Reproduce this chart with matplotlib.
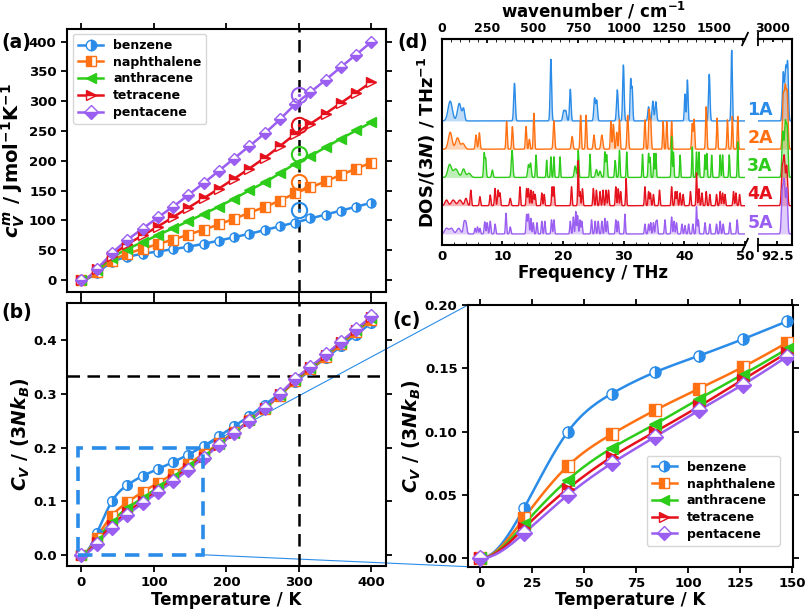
import numpy as np
import matplotlib
matplotlib.use('Agg')
import matplotlib.pyplot as plt
from matplotlib.lines import Line2D
from matplotlib.patches import Rectangle, ConnectionPatch

plt.rcParams.update({
    'font.family': ['DejaVu Sans'],
    'font.weight': 'bold',
    'axes.labelweight': 'bold',
    'font.size': 9.5,
    'mathtext.fontset': 'custom',
    'mathtext.rm': 'DejaVu Sans:bold',
    'mathtext.it': 'DejaVu Sans:italic:bold',
    'mathtext.bf': 'DejaVu Sans:bold',
    'axes.linewidth': 1.5,
    'xtick.major.width': 1.3,
    'ytick.major.width': 1.3,
})

# ---- heat capacity data (normalised Cv / 3NkB) ----
TEMPS = [0, 21.1, 42.1, 63.2, 84.2, 105.3, 126.3, 147.4, 168.4, 189.5,
         210.5, 231.6, 252.6, 273.7, 294.7, 315.8, 336.8, 357.9, 378.9, 400]
MOLECULES = ['benzene', 'naphthalene', 'anthracene', 'tetracene', 'pentacene']
N_ATOMS = [12, 18, 24, 30, 36]
CV_BENZENE = [0, 0.040, 0.100, 0.130, 0.147, 0.160, 0.173, 0.187, 0.203, 0.221,
              0.240, 0.259, 0.280, 0.301, 0.322, 0.345, 0.367, 0.389, 0.411, 0.433]
CV_NAPHTHALENE = [0, 0.032, 0.073, 0.098, 0.117, 0.134, 0.151, 0.170, 0.188, 0.208,
                  0.229, 0.251, 0.273, 0.297, 0.324, 0.346, 0.369, 0.393, 0.416, 0.439]
CV_ANTHRACENE = [0, 0.027, 0.062, 0.087, 0.106, 0.126, 0.145, 0.165, 0.185, 0.206,
                 0.228, 0.251, 0.274, 0.299, 0.326, 0.348, 0.372, 0.396, 0.419, 0.442]
CV_TETRACENE = [0, 0.024, 0.055, 0.080, 0.100, 0.120, 0.141, 0.162, 0.183, 0.205,
                0.227, 0.250, 0.274, 0.300, 0.327, 0.350, 0.373, 0.397, 0.420, 0.444]
CV_PENTACENE = [0, 0.020, 0.050, 0.075, 0.096, 0.117, 0.137, 0.159, 0.181, 0.204,
                0.227, 0.250, 0.274, 0.300, 0.328, 0.351, 0.374, 0.398, 0.421, 0.445]
CV_ALL = [CV_BENZENE, CV_NAPHTHALENE, CV_ANTHRACENE, CV_TETRACENE, CV_PENTACENE]
EXP_300K = [117, 165, 212, 260, 310]   # J/mol/K, experiment at 300 K
R_GAS = 8.314

COLORS = ['#2a8ce8', '#ff7112', '#2ecc1a', '#e5111c', '#9a5ef0']
MARKERS = [('o', 'right'), ('s', 'left'), ('<', 'full'), ('>', 'top'), ('D', 'bottom')]

# ---- phonon DOS peaks: (THz, height, width) ----
DOS_1A = [(1.4, 0.7, 0.35), (2.9, 0.62, 0.3), (3.6, 0.42, 0.18), (12.0, 1.33, 0.13),
          (18.0, 2.18, 0.12), (20.1, 0.35, 0.15), (20.45, 0.35, 0.15), (21.2, 1.12, 0.12),
          (25.2, 0.8, 0.13), (25.55, 0.72, 0.13), (28.95, 1.1, 0.13), (29.95, 1.98, 0.12),
          (31.15, 1.45, 0.1), (31.4, 1.15, 0.1), (34.1, 0.5, 0.13), (34.8, 0.7, 0.13),
          (35.3, 0.68, 0.13), (40.1, 0.95, 0.1), (40.5, 1.45, 0.1), (44.1, 1.65, 0.12),
          (47.8, 2.5, 0.1)]
DOS_2A = [(1.4, 0.6, 0.3), (2.6, 0.4, 0.3), (3.5, 0.2, 0.3), (5.66, 0.5, 0.12),
          (6.2, 0.58, 0.12), (10.7, 0.98, 0.1), (11.65, 0.8, 0.1), (13.9, 0.8, 0.1),
          (14.45, 0.35, 0.1), (15.2, 1.27, 0.1), (18.5, 1.0, 0.12), (21.5, 0.45, 0.13),
          (22.9, 1.2, 0.1), (23.8, 1.2, 0.1), (25.1, 0.5, 0.12), (26.4, 0.5, 0.15),
          (27.9, 0.98, 0.1), (28.3, 0.88, 0.1), (28.85, 0.6, 0.1), (29.3, 1.04, 0.1),
          (30.66, 1.2, 0.12), (33.5, 1.04, 0.1), (34.2, 1.38, 0.1), (34.45, 1.0, 0.1),
          (36.5, 0.98, 0.09), (37.1, 0.98, 0.09), (37.9, 0.98, 0.09), (41.3, 0.9, 0.1),
          (41.6, 1.05, 0.1), (43.6, 1.5, 0.1), (45.4, 1.1, 0.09), (47.1, 1.04, 0.09),
          (47.9, 1.16, 0.09), (48.8, 1.16, 0.09)]
DOS_3A = [(1.3, 0.45, 0.3), (2.3, 0.3, 0.4), (3.6, 0.3, 0.25), (4.5, 0.15, 0.3),
          (7.0, 0.85, 0.1), (7.25, 0.65, 0.1), (8.35, 0.26, 0.12), (11.6, 0.96, 0.13),
          (14.3, 0.45, 0.13), (14.65, 0.5, 0.12), (15.55, 0.79, 0.09), (17.3, 0.61, 0.08),
          (18.0, 0.73, 0.08), (18.5, 0.73, 0.08), (19.5, 0.73, 0.08), (22.0, 0.4, 0.15),
          (22.5, 0.96, 0.1), (24.45, 0.82, 0.08), (25.5, 0.28, 0.15), (26.1, 0.22, 0.15),
          (26.9, 0.9, 0.1), (27.2, 0.8, 0.1), (28.6, 0.6, 0.1), (29.3, 0.96, 0.09),
          (30.5, 0.9, 0.08), (33.1, 0.82, 0.08), (34.1, 0.85, 0.09), (34.35, 0.7, 0.08),
          (35.0, 0.85, 0.08), (35.3, 0.85, 0.08), (37.9, 1.44, 0.08), (38.2, 0.9, 0.08),
          (39.3, 0.79, 0.08), (41.3, 1.08, 0.08), (42.0, 0.9, 0.08), (42.4, 0.9, 0.08),
          (43.4, 0.8, 0.08), (43.7, 0.85, 0.08), (44.5, 0.79, 0.08), (45.9, 0.8, 0.08),
          (46.3, 0.8, 0.08), (47.4, 0.8, 0.08), (48.8, 1.26, 0.08)]
DOS_4A = [(0.8, 0.2, 0.25), (1.9, 0.2, 0.3), (3.0, 0.2, 0.3), (4.0, 0.26, 0.2),
          (4.8, 0.55, 0.1), (6.3, 0.32, 0.1), (8.0, 0.38, 0.1), (8.8, 0.61, 0.1),
          (9.3, 0.55, 0.1), (9.6, 0.45, 0.1), (11.3, 0.26, 0.12), (12.9, 0.67, 0.09),
          (14.0, 0.61, 0.09), (14.3, 0.6, 0.09), (14.7, 0.55, 0.09), (15.1, 0.5, 0.09),
          (15.4, 0.4, 0.09), (16.5, 0.45, 0.09), (16.9, 0.4, 0.09), (18.2, 0.67, 0.09),
          (18.5, 0.67, 0.09), (21.4, 0.67, 0.09), (22.5, 1.59, 0.08), (22.8, 0.5, 0.09),
          (23.2, 0.6, 0.09), (25.0, 0.61, 0.09), (25.5, 0.55, 0.09), (26.1, 0.5, 0.09),
          (26.6, 0.55, 0.09), (27.1, 0.55, 0.09), (27.5, 0.55, 0.09), (28.7, 0.67, 0.09),
          (29.1, 0.6, 0.09), (29.5, 0.5, 0.09), (30.4, 0.96, 0.08), (33.5, 0.67, 0.09),
          (34.1, 0.5, 0.09), (34.4, 0.45, 0.09), (34.9, 0.4, 0.09), (35.9, 0.55, 0.09),
          (37.9, 0.67, 0.09), (38.5, 0.5, 0.09), (38.8, 0.5, 0.09), (39.3, 0.45, 0.09),
          (39.8, 0.4, 0.09), (41.0, 0.5, 0.09), (42.0, 1.16, 0.08), (42.4, 0.6, 0.09),
          (42.9, 0.45, 0.09), (43.6, 0.5, 0.09), (44.2, 0.4, 0.09), (45.3, 0.4, 0.09),
          (45.9, 0.5, 0.09), (46.3, 0.45, 0.09), (46.7, 0.4, 0.09), (48.1, 0.5, 0.09),
          (48.5, 0.45, 0.09), (49.1, 0.4, 0.09)]
DOS_5A = [(0.8, 0.2, 0.3), (1.6, 0.2, 0.3), (2.8, 0.2, 0.3), (3.7, 0.4, 0.15),
          (4.0, 0.38, 0.15), (5.5, 0.2, 0.1), (5.9, 0.25, 0.1), (6.3, 0.2, 0.1),
          (7.1, 0.43, 0.1), (7.5, 0.4, 0.1), (8.0, 0.45, 0.1), (8.8, 0.35, 0.1),
          (10.6, 0.73, 0.09), (11.3, 0.25, 0.1), (14.0, 0.69, 0.1), (14.3, 0.7, 0.1),
          (14.7, 0.55, 0.09), (15.1, 0.4, 0.09), (15.7, 0.4, 0.09), (16.5, 0.45, 0.09),
          (17.0, 0.45, 0.09), (18.1, 0.5, 0.09), (18.5, 0.5, 0.09), (21.2, 0.45, 0.09),
          (21.7, 0.6, 0.09), (22.1, 0.79, 0.08), (22.4, 0.65, 0.09), (22.8, 0.5, 0.09),
          (23.1, 0.45, 0.09), (24.7, 0.5, 0.09), (25.3, 0.45, 0.09), (25.8, 0.45, 0.09),
          (26.4, 0.45, 0.09), (26.9, 0.55, 0.09), (27.3, 0.45, 0.09), (28.7, 0.5, 0.09),
          (29.1, 0.45, 0.09), (30.2, 0.7, 0.08), (33.5, 0.35, 0.09), (34.1, 0.35, 0.09),
          (34.45, 0.4, 0.09), (34.9, 0.4, 0.09), (35.3, 0.4, 0.09), (35.5, 0.45, 0.09),
          (36.8, 0.5, 0.09), (37.9, 0.6, 0.09), (38.3, 0.45, 0.09), (38.7, 0.4, 0.09),
          (39.6, 0.35, 0.09), (40.1, 0.3, 0.09), (40.7, 0.35, 0.09), (41.4, 0.35, 0.09),
          (42.0, 0.96, 0.08), (42.3, 0.5, 0.09), (43.4, 0.4, 0.09), (44.2, 0.35, 0.09),
          (45.3, 0.35, 0.09), (45.9, 0.45, 0.09), (46.4, 0.35, 0.09), (47.5, 0.4, 0.09),
          (48.7, 0.5, 0.09)]
DOS_MAIN = [DOS_1A, DOS_2A, DOS_3A, DOS_4A, DOS_5A]
# C-H stretch region
CH_1A = [(93.1, 1.7, 0.09), (93.35, 1.85, 0.09), (93.55, 1.95, 0.08)]
CH_2A = [(93.1, 1.8, 0.09), (93.3, 2.0, 0.09), (93.5, 1.9, 0.09)]
CH_3A = [(93.05, 1.6, 0.09), (93.3, 1.85, 0.09), (93.5, 1.7, 0.09)]
CH_4A = [(93.0, 1.3, 0.09), (93.2, 1.65, 0.09), (93.45, 1.4, 0.09)]
CH_5A = [(93.0, 1.5, 0.09), (93.2, 1.8, 0.09), (93.45, 1.6, 0.09)]
DOS_CH = [CH_1A, CH_2A, CH_3A, CH_4A, CH_5A]
DOS_LABELS = ['1A', '2A', '3A', '4A', '5A']
DOS_OFFSETS = [4, 3, 2, 1, 0]
THZ_TO_CM = 33.356


def spline(x, y, xf):
    # cubic spline, zero slope at the start, natural at the end
    x = np.asarray(x, float)
    y = np.asarray(y, float)
    n = len(x)
    h = np.diff(x)
    A = np.zeros((n, n))
    b = np.zeros(n)
    A[0, 0], A[0, 1] = 2 * h[0], h[0]
    b[0] = 6 * (y[1] - y[0]) / h[0]
    for i in range(1, n - 1):
        A[i, i - 1], A[i, i], A[i, i + 1] = h[i - 1], 2 * (h[i - 1] + h[i]), h[i]
        b[i] = 6 * ((y[i + 1] - y[i]) / h[i] - (y[i] - y[i - 1]) / h[i - 1])
    A[-1, -1] = 1
    M = np.linalg.solve(A, b)
    idx = np.clip(np.searchsorted(x, xf) - 1, 0, n - 2)
    x0, x1, hh = x[idx], x[idx + 1], h[idx]
    return (M[idx] * (x1 - xf) ** 3 / (6 * hh) + M[idx + 1] * (xf - x0) ** 3 / (6 * hh)
            + (y[idx] / hh - M[idx] * hh / 6) * (x1 - xf)
            + (y[idx + 1] / hh - M[idx + 1] * hh / 6) * (xf - x0))


def spectrum(x, peaks):
    out = np.zeros_like(x)
    for pos, hgt, wid in peaks:
        out += hgt * np.exp(-0.5 * ((x - pos) / wid) ** 2)
    return out


def style_ax(ax):
    ax.tick_params(direction='out', top=True, right=True, length=4, labelsize=9.5)
    for lab in ax.get_xticklabels() + ax.get_yticklabels():
        lab.set_fontweight('bold')


def plot_series(ax, T, vals, i, ms):
    mk, fs = MARKERS[i]
    Tf = np.linspace(T[0], T[-1], 400)
    ax.plot(Tf, spline(T, vals, Tf), color=COLORS[i], lw=1.8, zorder=3)
    ax.plot(T, vals, ls='none', marker=mk, fillstyle=fs, ms=ms, color=COLORS[i],
            markerfacecoloralt='white', mec=COLORS[i], mew=1.0, zorder=4)


def legend_handles():
    hs = []
    for i, name in enumerate(MOLECULES):
        mk, fs = MARKERS[i]
        hs.append(Line2D([], [], color=COLORS[i], lw=1.8, marker=mk, fillstyle=fs, ms=7.5,
                         markerfacecoloralt='white', mec=COLORS[i], label=name))
    return hs


fig = plt.figure(figsize=(8.1, 6.1), dpi=100)
axa = fig.add_axes([0.0827, 0.5213, 0.3938, 0.4312])
axb = fig.add_axes([0.0827, 0.0721, 0.3938, 0.4312])
axd = fig.add_axes([0.5453, 0.5984, 0.3745, 0.3377])
axr = fig.add_axes([0.9358, 0.5984, 0.042, 0.3377])
axc = fig.add_axes([0.5778, 0.071, 0.4012, 0.429])

T = np.array(TEMPS)

# (a) molar heat capacity
for i, cv in enumerate(CV_ALL):
    plot_series(axa, T, np.array(cv) * 3 * N_ATOMS[i] * R_GAS, i, 6.5)
    axa.plot(300, EXP_300K[i], 'o', ms=11, mfc='none', mec=COLORS[i], mew=1.5, zorder=5)
    axa.plot(300, EXP_300K[i], '.', ms=3, color=COLORS[i], zorder=5)
axa.axvline(300, color='k', ls=(0, (5, 3)), lw=1.8, zorder=2)
axa.set_xlim(-20, 420)
axa.set_ylim(-20, 421)
axa.set_xticks([0, 100, 200, 300, 400])
axa.set_xticklabels([])
axa.set_yticks(range(0, 401, 50))
axa.set_ylabel(r'$c_V^m$ / Jmol$^{-1}$K$^{-1}$', fontsize=14, labelpad=1)
axa.legend(handles=legend_handles(), loc='upper left', bbox_to_anchor=(0.019, 0.981),
           borderaxespad=0, handlelength=2.0, labelspacing=0.3,
           prop={'weight': 'bold', 'size': 9})
style_ax(axa)

# (b) normalised heat capacity
for i, cv in enumerate(CV_ALL):
    plot_series(axb, T, np.array(cv), i, 7)
axb.axvline(300, color='k', ls=(0, (5, 3)), lw=1.8, zorder=2)
axb.axhline(1 / 3, color='k', ls=(0, (5, 3)), lw=1.8, zorder=2)
axb.add_patch(Rectangle((-5, 0), 172, 0.2, fill=False, ec='#2a8ce8', lw=2.6,
                        ls=(0, (4, 2.5)), zorder=6))
axb.set_xlim(-20, 420)
axb.set_ylim(-0.021, 0.47)
axb.set_xticks([0, 100, 200, 300, 400])
axb.set_yticks([0.0, 0.1, 0.2, 0.3, 0.4])
axb.set_xlabel('Temperature / K', fontsize=12, labelpad=1)
axb.set_ylabel(r'$C_V$ / (3$Nk_B$)', fontsize=13.5, labelpad=1)
style_ax(axb)

# (c) zoom of the low-temperature region
for i, cv in enumerate(CV_ALL):
    plot_series(axc, T[:8], np.array(cv[:8]), i, 8)
axc.set_xlim(-6, 150.5)
axc.set_ylim(-0.0066, 0.2)
axc.set_xticks(range(0, 151, 25))
axc.set_yticks([0.0, 0.05, 0.10, 0.15, 0.20])
axc.set_yticklabels(['0.00', '0.05', '0.10', '0.15', '0.20'])
axc.set_xlabel('Temperature / K', fontsize=12, labelpad=1)
axc.set_ylabel(r'$C_V$ / (3$Nk_B$)', fontsize=13.5, labelpad=1)
axc.legend(handles=legend_handles(), loc='lower right', bbox_to_anchor=(0.96, 0.08),
           borderaxespad=0, handlelength=2.0, labelspacing=0.3,
           prop={'weight': 'bold', 'size': 9})
style_ax(axc)

for xy_b, xy_c in [((167, 0.2), (0, 1)), ((167, 0), (0, 0))]:
    con = ConnectionPatch(xyA=xy_b, coordsA=axb.transData, xyB=xy_c, coordsB=axc.transAxes,
                          color='#2a8ce8', lw=0.8, zorder=1)
    axb.add_artist(con)

# (d) phonon density of states, broken x axis
xm = np.linspace(0, 50, 3001)
xr = np.linspace(90.5, 94, 600)
for i in range(5):
    off = DOS_OFFSETS[i]
    ym = spectrum(xm, DOS_MAIN[i])
    yr = spectrum(xr, DOS_CH[i])
    for ax, xx, yy in [(axd, xm, ym), (axr, xr, yr)]:
        ax.fill_between(xx, off, off + yy, color=COLORS[i], alpha=0.3, lw=0)
        ax.plot(xx, off + yy, color=COLORS[i], lw=1.0)
    axr.text(90.7, off + 0.4, DOS_LABELS[i], color=COLORS[i], fontsize=12.5,
             fontweight='bold', ha='center', va='center', clip_on=False, zorder=10)

for ax in (axd, axr):
    ax.set_ylim(-0.39, 6.9)
    ax.set_yticks([])
    ax.tick_params(direction='in', length=3, labelsize=9.5)
axd.set_xlim(0, 50)
axd.set_xticks(range(0, 51, 10))
axd.set_xticks(np.arange(0, 50, 2), minor=True)
axd.tick_params(which='minor', direction='in', length=2)
axd.spines['right'].set_visible(False)
axd.set_xlabel('Frequency / THz', fontsize=12, labelpad=1)
axd.set_ylabel(r'DOS/(3$N$) / THz$^{-1}$', fontsize=13, labelpad=3)
axr.set_xlim(90.5, 94)
axr.set_xticks([92.5])
axr.set_xticklabels(['92.5'])
axr.spines['left'].set_visible(False)

top = axd.secondary_xaxis('top', functions=(lambda f: f * THZ_TO_CM, lambda w: w / THZ_TO_CM))
top.set_xticks(range(0, 1501, 250))
top.set_xticks(range(0, 1651, 50), minor=True)
top.tick_params(which='major', direction='in', length=3, labelsize=9, pad=3)
top.tick_params(which='minor', direction='in', length=2)
top.set_xlabel(r'wavenumber / cm$^{-1}$', fontsize=12, labelpad=3)
top_r = axr.secondary_xaxis('top')
top_r.set_xticks([92.0])
top_r.set_xticklabels(['3000'])
top_r.set_xticks([91.0, 93.0], minor=True)
top_r.tick_params(which='both', direction='in', length=2, labelsize=9, pad=3)
for sec in (top, top_r):
    for lab in sec.get_xticklabels():
        lab.set_fontweight('bold')
for ax in (axd, axr):
    for lab in ax.get_xticklabels():
        lab.set_fontweight('bold')

# break marks
d = 0.012
for ax, x0, sx in [(axd, 1.0, 0.8), (axr, 0.0, 0.09)]:
    for y0 in (0, 1):
        ax.plot([x0 - sx * d, x0 + sx * d], [y0 - 0.03, y0 + 0.03], transform=ax.transAxes,
                color='k', lw=1.3, clip_on=False)

for txt, x, y in [('(a)', 0.002, 0.931), ('(b)', 0.002, 0.487), ('(c)', 0.484, 0.475),
                  ('(d)', 0.49, 0.931)]:
    fig.text(x, y, txt, fontsize=13.5, fontweight='bold', va='center', ha='left')

fig.savefig('out.png', dpi=100)
